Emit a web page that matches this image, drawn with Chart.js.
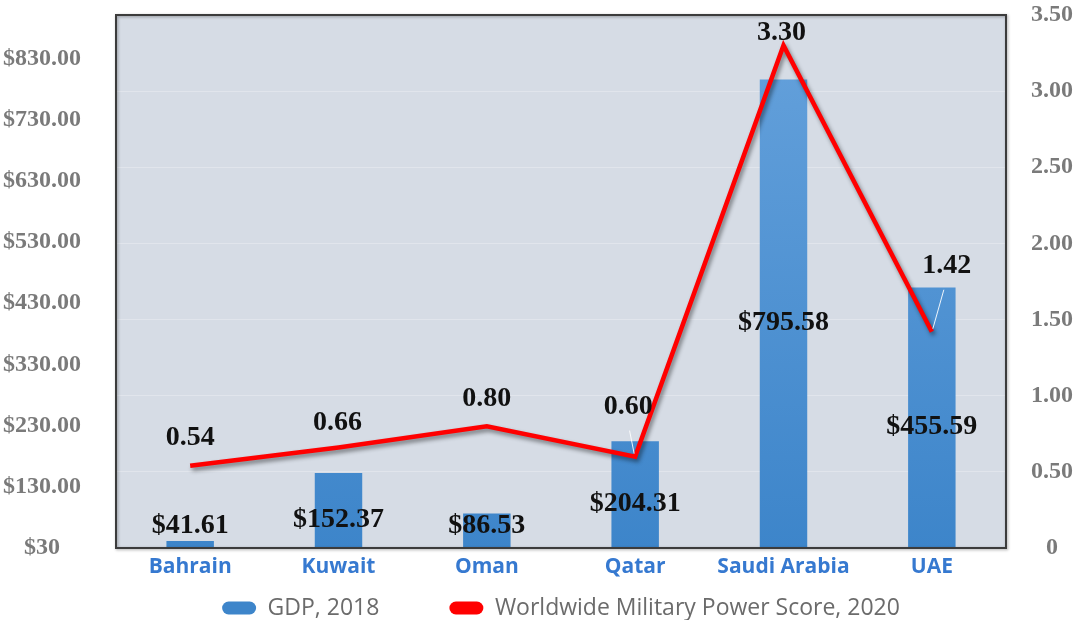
<!DOCTYPE html>
<html>
<head>
<meta charset="utf-8">
<script src="https://cdn.jsdelivr.net/npm/chart.js@4.4.1/dist/chart.umd.min.js"></script>
<style>
html,body{margin:0;padding:0;background:#ffffff;}
#wrap{width:1076px;height:620px;}
</style>
</head>
<body>
<div id="wrap"><canvas id="c" width="1076" height="620"></canvas></div>
<script>
// ---- data ----
const categories = ['Bahrain', 'Kuwait', 'Oman', 'Qatar', 'Saudi Arabia', 'UAE'];
const gdp2018 = [41.61, 152.37, 86.53, 204.31, 795.58, 455.59];
const militaryScore2020 = [0.54, 0.66, 0.80, 0.60, 3.30, 1.42];
const gdpTicks = [30, 130, 230, 330, 430, 530, 630, 730, 830];
const gdpTickLabels = ['$30', '$130.00', '$230.00', '$330.00', '$430.00', '$530.00', '$630.00', '$730.00', '$830.00'];
const scoreTicks = [0, 0.5, 1, 1.5, 2, 2.5, 3, 3.5];
const scoreTickLabels = ['0', '0.50', '1.00', '1.50', '2.00', '2.50', '3.00', '3.50'];
const seriesNames = ['GDP, 2018', 'Worldwide Military Power Score, 2020'];

// label placement (offsets from each line point, in px)
const scoreLabelOffsets = [[0, -28], [-1, -25], [0, -27], [-7, -50], [-2, -13], [15, -66]];
const scoreLabelLeaders = [false, false, false, true, false, true];

const LABEL_FONT = 'bold 28px "Liberation Serif", "Times New Roman", serif';
const LEGEND_ITEM_CENTER_Y = 608;

const plotDecor = {
  id: 'plotDecor',
  afterLayout(chart) {
    const lg = chart.legend;
    if (!lg) return;
    const pad = lg.options.labels.padding;
    const fs = lg.options.labels.font.size;
    lg.top = LEGEND_ITEM_CENTER_Y - pad - fs / 2;
    lg.bottom = chart.height;
  },
  beforeDraw(chart) {
    const {ctx, chartArea: a} = chart;
    ctx.save();
    ctx.fillStyle = '#d6dce5';
    ctx.fillRect(a.left, a.top, a.right - a.left, a.bottom - a.top);
    ctx.restore();
  },
  beforeDatasetDraw(chart, args) {
    if (args.meta.type === 'line') {
      const ctx = chart.ctx;
      ctx.save();
      ctx.shadowColor = 'rgba(0,0,0,0.45)';
      ctx.shadowBlur = 4;
      ctx.shadowOffsetX = 2;
      ctx.shadowOffsetY = 3;
    }
  },
  afterDatasetDraw(chart, args) {
    if (args.meta.type === 'line') chart.ctx.restore();
  },
  afterDatasetsDraw(chart) {
    const {ctx, chartArea: a} = chart;
    // frame
    ctx.save();
    ctx.shadowColor = 'rgba(0,0,0,0.35)';
    ctx.shadowBlur = 3;
    ctx.shadowOffsetX = 1;
    ctx.shadowOffsetY = 1;
    ctx.strokeStyle = '#3c3c3c';
    ctx.lineWidth = 2;
    ctx.strokeRect(a.left, a.top, a.right - a.left, a.bottom - a.top);
    ctx.restore();

    // bar labels
    const barMeta = chart.getDatasetMeta(0);
    ctx.save();
    ctx.font = LABEL_FONT;
    ctx.fillStyle = '#111111';
    ctx.textAlign = 'center';
    ctx.textBaseline = 'middle';
    barMeta.data.forEach((el, i) => {
      let y = (el.y + el.base) / 2;
      y = Math.min(y, a.bottom - 22);
      ctx.fillText('$' + gdp2018[i].toFixed(2), el.x, y);
    });
    // line labels
    const lineMeta = chart.getDatasetMeta(1);
    lineMeta.data.forEach((el, i) => {
      const off = scoreLabelOffsets[i];
      const lx = el.x + off[0], ly = el.y + off[1];
      if (scoreLabelLeaders[i]) {
        ctx.save();
        ctx.strokeStyle = 'rgba(255,255,255,0.9)';
        ctx.lineWidth = 1;
        ctx.beginPath();
        ctx.moveTo(lx + (el.x - lx) * 0.2, ly + 24);
        ctx.lineTo(el.x - Math.sign(el.x - lx), el.y - 3);
        ctx.stroke();
        ctx.restore();
      }
      ctx.fillText(militaryScore2020[i].toFixed(2), lx, ly);
    });
    ctx.restore();
  }
};

const barGradient = (context) => {
  const chart = context.chart;
  const a = chart.chartArea;
  if (!a) return '#5b9bd5';
  const g = chart.ctx.createLinearGradient(0, a.top, 0, a.bottom);
  g.addColorStop(0, '#66a2dc');
  g.addColorStop(1, '#3d85ca');
  return g;
};

new Chart(document.getElementById('c'), {
  data: {
    labels: categories,
    datasets: [
      {
        type: 'bar',
        label: seriesNames[0],
        data: gdp2018,
        yAxisID: 'yGdp',
        backgroundColor: barGradient,
        borderWidth: 0,
        barPercentage: 0.32,
        categoryPercentage: 1,
        order: 2
      },
      {
        type: 'line',
        label: seriesNames[1],
        data: militaryScore2020,
        yAxisID: 'yScore',
        borderColor: '#ff0000',
        backgroundColor: '#ff0000',
        borderWidth: 4.5,
        pointRadius: 0,
        pointHoverRadius: 0,
        tension: 0,
        borderJoinStyle: 'miter',
        order: 1
      }
    ]
  },
  options: {
    responsive: false,
    animation: false,
    events: [],
    layout: { padding: { top: 15, left: 0, right: 0, bottom: 0 } },
    scales: {
      x: {
        grid: { display: false, drawTicks: false },
        border: { display: false },
        ticks: {
          color: '#3679d0',
          font: { family: '"Open Sans", "Noto Sans", sans-serif', size: 21, weight: 'bold' },
          padding: 6,
          maxRotation: 0,
          autoSkip: false
        },
        afterFit(scale) { scale.height = 32; }
      },
      yGdp: {
        position: 'left',
        min: 30,
        max: 901,
        grid: { display: false, drawTicks: false },
        border: { display: false },
        afterBuildTicks(scale) { scale.ticks = gdpTicks.map(v => ({ value: v })); },
        ticks: {
          color: '#7a7a7a',
          font: { family: '"Liberation Serif", "Times New Roman", serif', size: 24, weight: 'bold' },
          crossAlign: 'center',
          padding: 35,
          callback: (v) => gdpTickLabels[gdpTicks.indexOf(v)]
        },
        afterFit(scale) { scale.width = 116; scale.paddingTop = 0; scale.paddingBottom = 0; }
      },
      yScore: {
        position: 'right',
        min: 0,
        max: 3.5,
        grid: { display: true, drawTicks: false, color: 'rgba(255,255,255,0.28)', lineWidth: 1 },
        border: { display: false },
        afterBuildTicks(scale) { scale.ticks = scoreTicks.map(v => ({ value: v })); },
        ticks: {
          color: '#7a7a7a',
          font: { family: '"Liberation Serif", "Times New Roman", serif', size: 24, weight: 'bold' },
          crossAlign: 'center',
          padding: 25,
          callback: (v) => scoreTickLabels[scoreTicks.indexOf(v)]
        },
        afterFit(scale) { scale.width = 70; scale.paddingTop = 0; scale.paddingBottom = 0; }
      }
    },
    plugins: {
      legend: {
        position: 'bottom',
        fullSize: false,
        maxHeight: 40,
        labels: {
          boxWidth: 34,
          boxHeight: 13,
          useBorderRadius: true,
          borderRadius: 6.5,
          padding: 70,
          color: '#6b6b6b',
          font: { family: '"Open Sans", "Noto Sans", sans-serif', size: 23 },
          sort: (a, b) => a.datasetIndex - b.datasetIndex,
          generateLabels: (chart) =>
            Chart.defaults.plugins.legend.labels.generateLabels(chart).map(item => ({
              ...item, lineWidth: 0, strokeStyle: 'rgba(0,0,0,0)'
            }))
        }
      },
      tooltip: { enabled: false }
    }
  },
  plugins: [plotDecor]
});
</script>
</body>
</html>
